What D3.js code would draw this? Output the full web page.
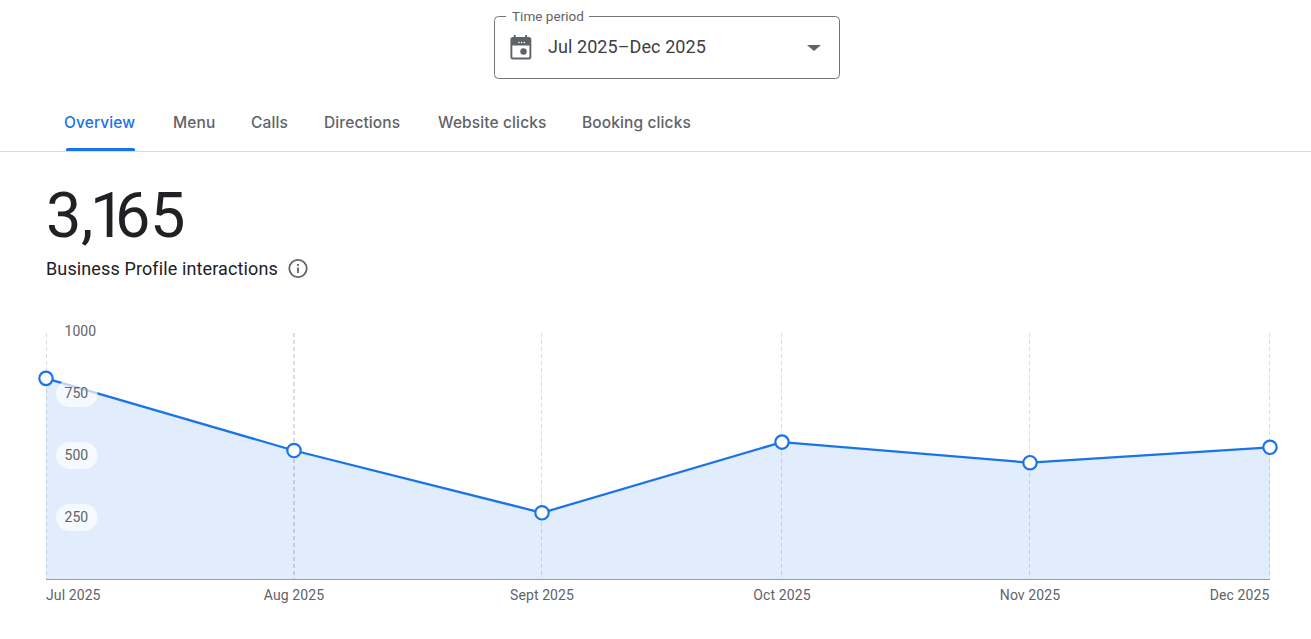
<!DOCTYPE html>
<html>
<head>
<meta charset="utf-8">
<script src="https://cdn.jsdelivr.net/npm/d3@7"></script>
<style>
  html, body { margin: 0; padding: 0; background: #fff; overflow: hidden; }
  svg { display: block; }
  text { font-family: Roboto, sans-serif; }
  .tab { font-family: Inter, Roboto, sans-serif; }
</style>
</head>
<body>
<div id="chart"></div>
<script>
// Monthly interactions
const months = ["2025-07-01", "2025-08-01", "2025-09-01", "2025-10-01", "2025-11-01", "2025-12-01"];
const monthLabels = ["Jul 2025", "Aug 2025", "Sept 2025", "Oct 2025", "Nov 2025", "Dec 2025"];
const interactions = [809, 518, 267, 552, 469, 531];
const yTicks = [250, 500, 750, 1000];
const tabs = ["Overview", "Menu", "Calls", "Directions", "Website clicks", "Booking clicks"];
const tabStarts = [64, 173, 251, 324, 438, 582];
const calendarDots = [519, 521.7, 524.4];

const width = 1311, height = 639;
const blue = "#1a73e8";
const svg = d3.select("#chart").append("svg").attr("width", width).attr("height", height);

// Period selector
svg.append("rect").attr("x", 494.5).attr("y", 16.5).attr("width", 345).attr("height", 62)
  .attr("rx", 4).attr("fill", "#fff").attr("stroke", "#70757a");
svg.append("rect").attr("x", 506).attr("y", 12).attr("width", 83).attr("height", 9).attr("fill", "#fff");
svg.append("text").attr("x", 512).attr("y", 21).attr("font-size", 13.5).attr("letter-spacing", 0.03).attr("fill", "#5f6368").text("Time period");
svg.append("text").attr("x", 548).attr("y", 53).attr("font-size", 18).attr("letter-spacing", 0.07).attr("fill", "#3c4043").text("Jul 2025–Dec 2025");
svg.append("path").attr("transform", "translate(509,35) scale(.95,1)")
  .attr("fill", "#5f6368").attr("fill-rule", "evenodd")
  .attr("d", "M5 0h2v2h10V0h2v2h2c1.5 0 2.5 1 2.5 2.5V22c0 1.5-1 2.5-2.5 2.5H4C2.5 24.500 1.500 23.500 1.500 22V4.500C1.500 3 2.500 2 4 2h1zM3.500 10.500V22c0 .3.2.5.5.5h17c.3 0 .5-.2.5-.5V10.500z");
svg.selectAll(".calendar-dot").data(calendarDots).join("circle")
  .attr("class", "calendar-dot")
  .attr("cx", d => d).attr("cy", 42.5).attr("r", 0.8).attr("fill", "#fff");
svg.append("circle").attr("cx", 523.500).attr("cy", 51.500).attr("r", 3.200).attr("fill", "#5f6368");
svg.append("path").attr("d", "M807 45h14l-7 6z").attr("fill", "#5f6368");

// Tab strip
svg.selectAll(".tab").data(tabs).join("text")
  .attr("class", "tab")
  .attr("x", (d, i) => tabStarts[i]).attr("y", 128)
  .attr("font-size", 15.500).attr("font-weight", 500).attr("letter-spacing", 0.12)
  .attr("fill", (d, i) => i === 0 ? blue : "#5f6368")
  .text(d => d);
svg.append("line").attr("x1", 0).attr("x2", width).attr("y1", 151.500).attr("y2", 151.500).attr("stroke", "#dadce0");
svg.append("path").attr("d", "M66 151v-1.500a1.500 1.500 0 0 1 1.500-1.500h66a1.500 1.500 0 0 1 1.500 1.500V151z").attr("fill", blue);

// Headline figure, set with a narrow figure one
svg.append("text").attr("x", "46 81 90 115 150").attr("y", 237).attr("font-size", 63).attr("fill", "#202124").text("3,165");
svg.append("text").attr("x", 46).attr("y", 274.500).attr("font-size", 18).attr("letter-spacing", 0.12).attr("fill", "#202124").text("Business Profile interactions");
const info = svg.append("g").attr("transform", "translate(298,268.500)");
info.append("circle").attr("r", 8.700).attr("fill", "none").attr("stroke", "#5f6368").attr("stroke-width", 1.800);
info.append("rect").attr("x", -0.900).attr("y", -1).attr("width", 1.800).attr("height", 5.500).attr("fill", "#5f6368");
info.append("rect").attr("x", -0.900).attr("y", -4.500).attr("width", 1.800).attr("height", 1.900).attr("fill", "#5f6368");

// Scales
const parsed = months.map(d3.utcParse("%Y-%m-%d"));
const x = d3.scaleUtc().domain([parsed[0], parsed[parsed.length - 1]]).range([46, 1270]);
const y = d3.scaleLinear().domain([0, 1000]).range([579, 331]);
const rows = parsed.map((date, i) => ({ date, value: interactions[i], label: monthLabels[i] }));

// Vertical month guides; the second one is drawn heavier
svg.selectAll(".guide").data(rows).join("line")
  .attr("class", "guide")
  .attr("x1", (d, i) => x(d.date) + (i === 0 ? 0.5 : i === 1 ? 0 : -0.5))
  .attr("x2", (d, i) => x(d.date) + (i === 0 ? 0.5 : i === 1 ? 0 : -0.5))
  .attr("y1", 333).attr("y2", 579)
  .attr("stroke", "#dadce0")
  .attr("stroke-width", (d, i) => i === 1 ? 2 : 1)
  .attr("stroke-dasharray", "4 3");

// Area and trend line
svg.append("path").datum(rows)
  .attr("fill", blue).attr("fill-opacity", 0.13)
  .attr("d", d3.area().x(d => x(d.date)).y0(y(0)).y1(d => y(d.value)));
svg.append("path").datum(rows)
  .attr("fill", "none").attr("stroke", blue).attr("stroke-width", 2.25)
  .attr("d", d3.line().x(d => x(d.date)).y(d => y(d.value)));

// Baseline
svg.append("line").attr("x1", 46).attr("x2", 1270).attr("y1", 579.500).attr("y2", 579.500).attr("stroke", "#9aa0a6");

// Value labels sit on translucent pills over the plot
const yAxis = svg.append("g").selectAll("g").data(yTicks).join("g")
  .attr("transform", d => `translate(0,${y(d)})`);
yAxis.filter(d => d !== 1000).append("rect")
  .attr("x", 56).attr("y", -13).attr("width", 41.500).attr("height", 27).attr("rx", 13.500)
  .attr("fill", "#fff").attr("fill-opacity", 0.7);
yAxis.append("text")
  .attr("x", 64.500).attr("y", 5).attr("font-size", 14).attr("letter-spacing", 0.05).attr("fill", "#5f6368")
  .text(d => d);

// Month markers
svg.selectAll(".pt").data(rows).join("circle")
  .attr("class", "pt")
  .attr("cx", d => x(d.date)).attr("cy", d => y(d.value)).attr("r", 6.700)
  .attr("fill", "#fff").attr("stroke", blue).attr("stroke-width", 2.200);

// Month labels: ends stay inside the plot, the others are centred
svg.selectAll(".month").data(rows).join("text")
  .attr("class", "month")
  .attr("x", d => x(d.date) - (d === rows[rows.length - 1] ? 0.5 : 0)).attr("y", 600)
  .attr("font-size", 14).attr("letter-spacing", 0.1).attr("fill", "#5f6368")
  .attr("text-anchor", (d, i) => i === 0 ? "start" : i === rows.length - 1 ? "end" : "middle")
  .text(d => d.label);
</script>
</body>
</html>
